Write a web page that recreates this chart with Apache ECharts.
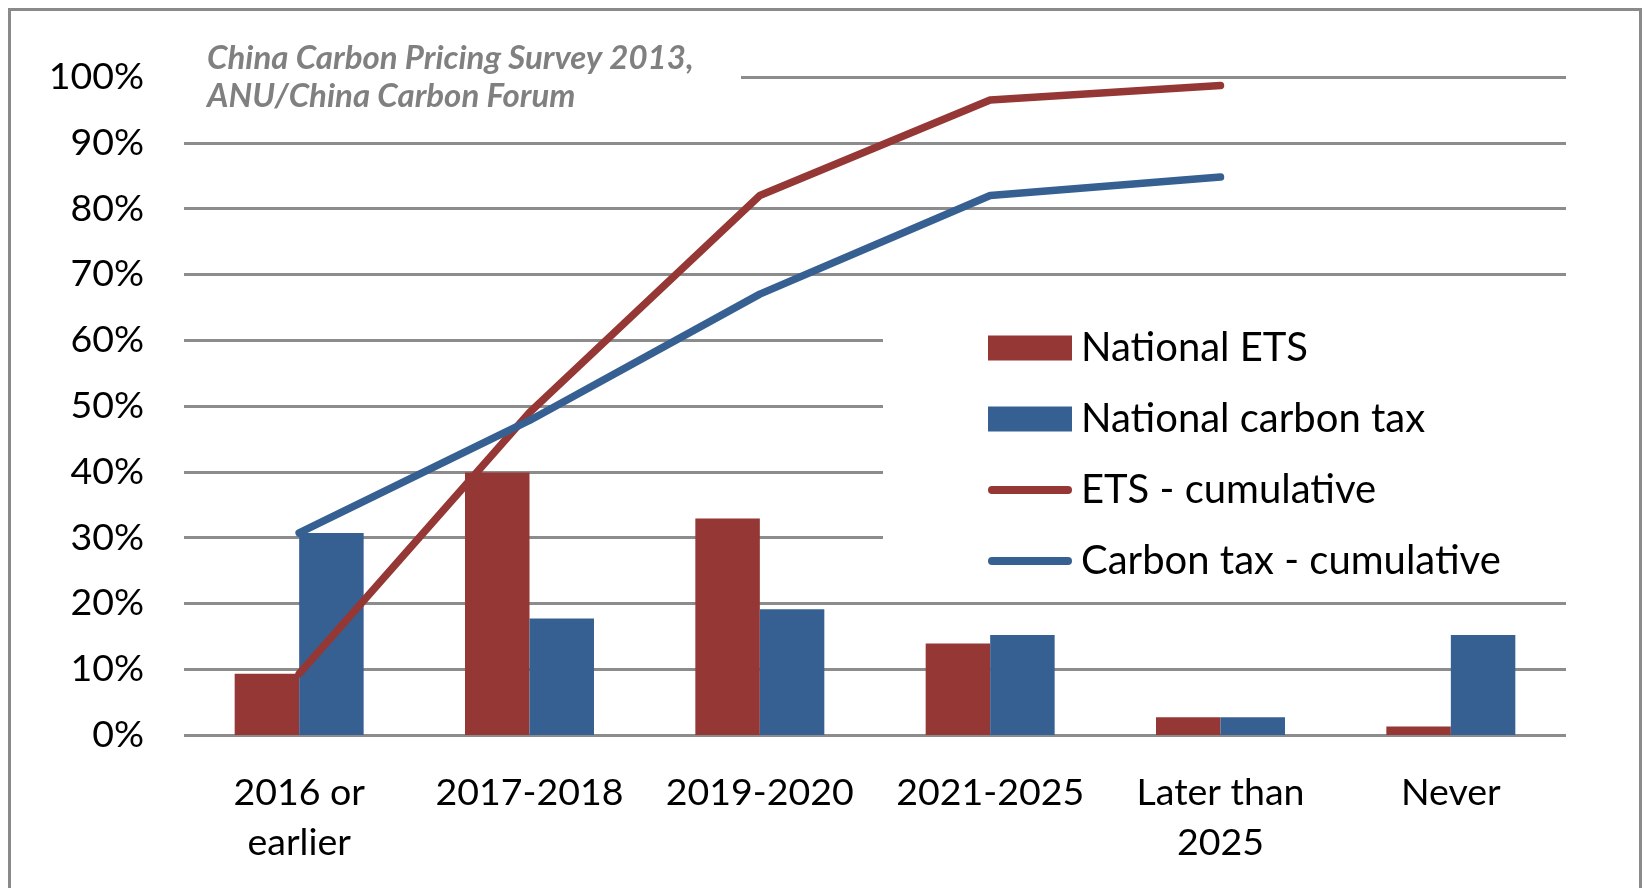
<!DOCTYPE html>
<html>
<head>
<meta charset="utf-8">
<script src="https://cdn.jsdelivr.net/npm/echarts@6/dist/echarts.min.js"></script>
<style>
  html, body { margin: 0; padding: 0; background: #fff; }
  #chart { position: relative; width: 1648px; height: 888px; }
  .frame {
    position: absolute; left: 8px; top: 8px; right: 6px; height: 940px;
    border: 3px solid #8a8a8a; pointer-events: none;
  }
</style>
</head>
<body>
<div id="chart"></div>
<div class="frame"></div>
<script>
// survey answers, % of respondents
const categories = ["2016 or\nearlier", "2017-2018", "2019-2020", "2021-2025", "Later than\n2025", "Never"];
const nationalEts = [9.3, 39.9, 32.9, 13.9, 2.7, 1.3];
const nationalTax = [30.7, 17.7, 19.1, 15.2, 2.7, 15.2];
const etsCumulative = [9.3, 49.0, 82.0, 96.5, 98.7, "-"];
const taxCumulative = [30.7, 47.8, 67.0, 82.0, 84.8, "-"];

const red = "#953735";
const blue = "#376092";
const font = "Lato";
const lineIcon = "path://M4,0 L80,0 A4,4 0 0 1 80,8 L4,8 A4,4 0 0 1 4,0 Z";

const chart = echarts.init(document.getElementById("chart"));
chart.setOption({
  animation: false,
  textStyle: { fontFamily: font },
  title: {
    text: "China Carbon Pricing Survey 2013,\nANU/China Carbon Forum",
    left: 150,
    top: 30,
    padding: [9, 0, 9, 57],
    backgroundColor: "#fff",
    textStyle: {
      fontFamily: font,
      fontSize: 33,
      fontWeight: "bold",
      fontStyle: "italic",
      color: "#808080",
      lineHeight: 38,
      width: 534
    }
  },
  legend: {
    orient: "vertical",
    left: 883,
    top: 290,
    padding: [38, 300, 20, 105],
    backgroundColor: "#fff",
    itemWidth: 84,
    itemHeight: 25,
    itemGap: 31,
    textStyle: { fontFamily: font, fontSize: 40, color: "#000", lineHeight: 40, padding: [0, 0, 0, 4] },
    data: [
      { name: "National ETS", icon: "rect" },
      { name: "National carbon tax", icon: "rect" },
      { name: "ETS - cumulative", icon: lineIcon },
      { name: "Carbon tax - cumulative", icon: lineIcon }
    ]
  },
  grid: { left: 184, right: 82, top: 77, bottom: 153 },
  xAxis: {
    type: "category",
    data: categories,
    axisLine: { show: false },
    axisTick: { show: false },
    axisLabel: { fontFamily: font, fontSize: 37.5, color: "#000", lineHeight: 50, margin: 33, interval: 0 }
  },
  yAxis: {
    type: "value",
    min: 0,
    max: 100,
    interval: 10,
    axisLine: { show: false },
    axisTick: { show: false },
    axisLabel: { formatter: "{value}%", fontFamily: font, fontSize: 37.5, color: "#000", margin: 40 },
    splitLine: { lineStyle: { color: "#8c8c8c", width: 3 } }
  },
  series: [
    {
      name: "National ETS",
      type: "bar",
      data: nationalEts,
      barGap: "0%",
      barCategoryGap: "44%",
      itemStyle: { color: red }
    },
    {
      name: "National carbon tax",
      type: "bar",
      data: nationalTax,
      barGap: "0%",
      barCategoryGap: "44%",
      itemStyle: { color: blue }
    },
    {
      name: "ETS - cumulative",
      type: "line",
      data: etsCumulative,
      symbol: "none",
      z: 5,
      itemStyle: { color: red },
      lineStyle: { color: red, width: 7.5, cap: "round" }
    },
    {
      name: "Carbon tax - cumulative",
      type: "line",
      data: taxCumulative,
      symbol: "none",
      z: 5,
      itemStyle: { color: blue },
      lineStyle: { color: blue, width: 7.5, cap: "round" }
    }
  ]
});
</script>
</body>
</html>
